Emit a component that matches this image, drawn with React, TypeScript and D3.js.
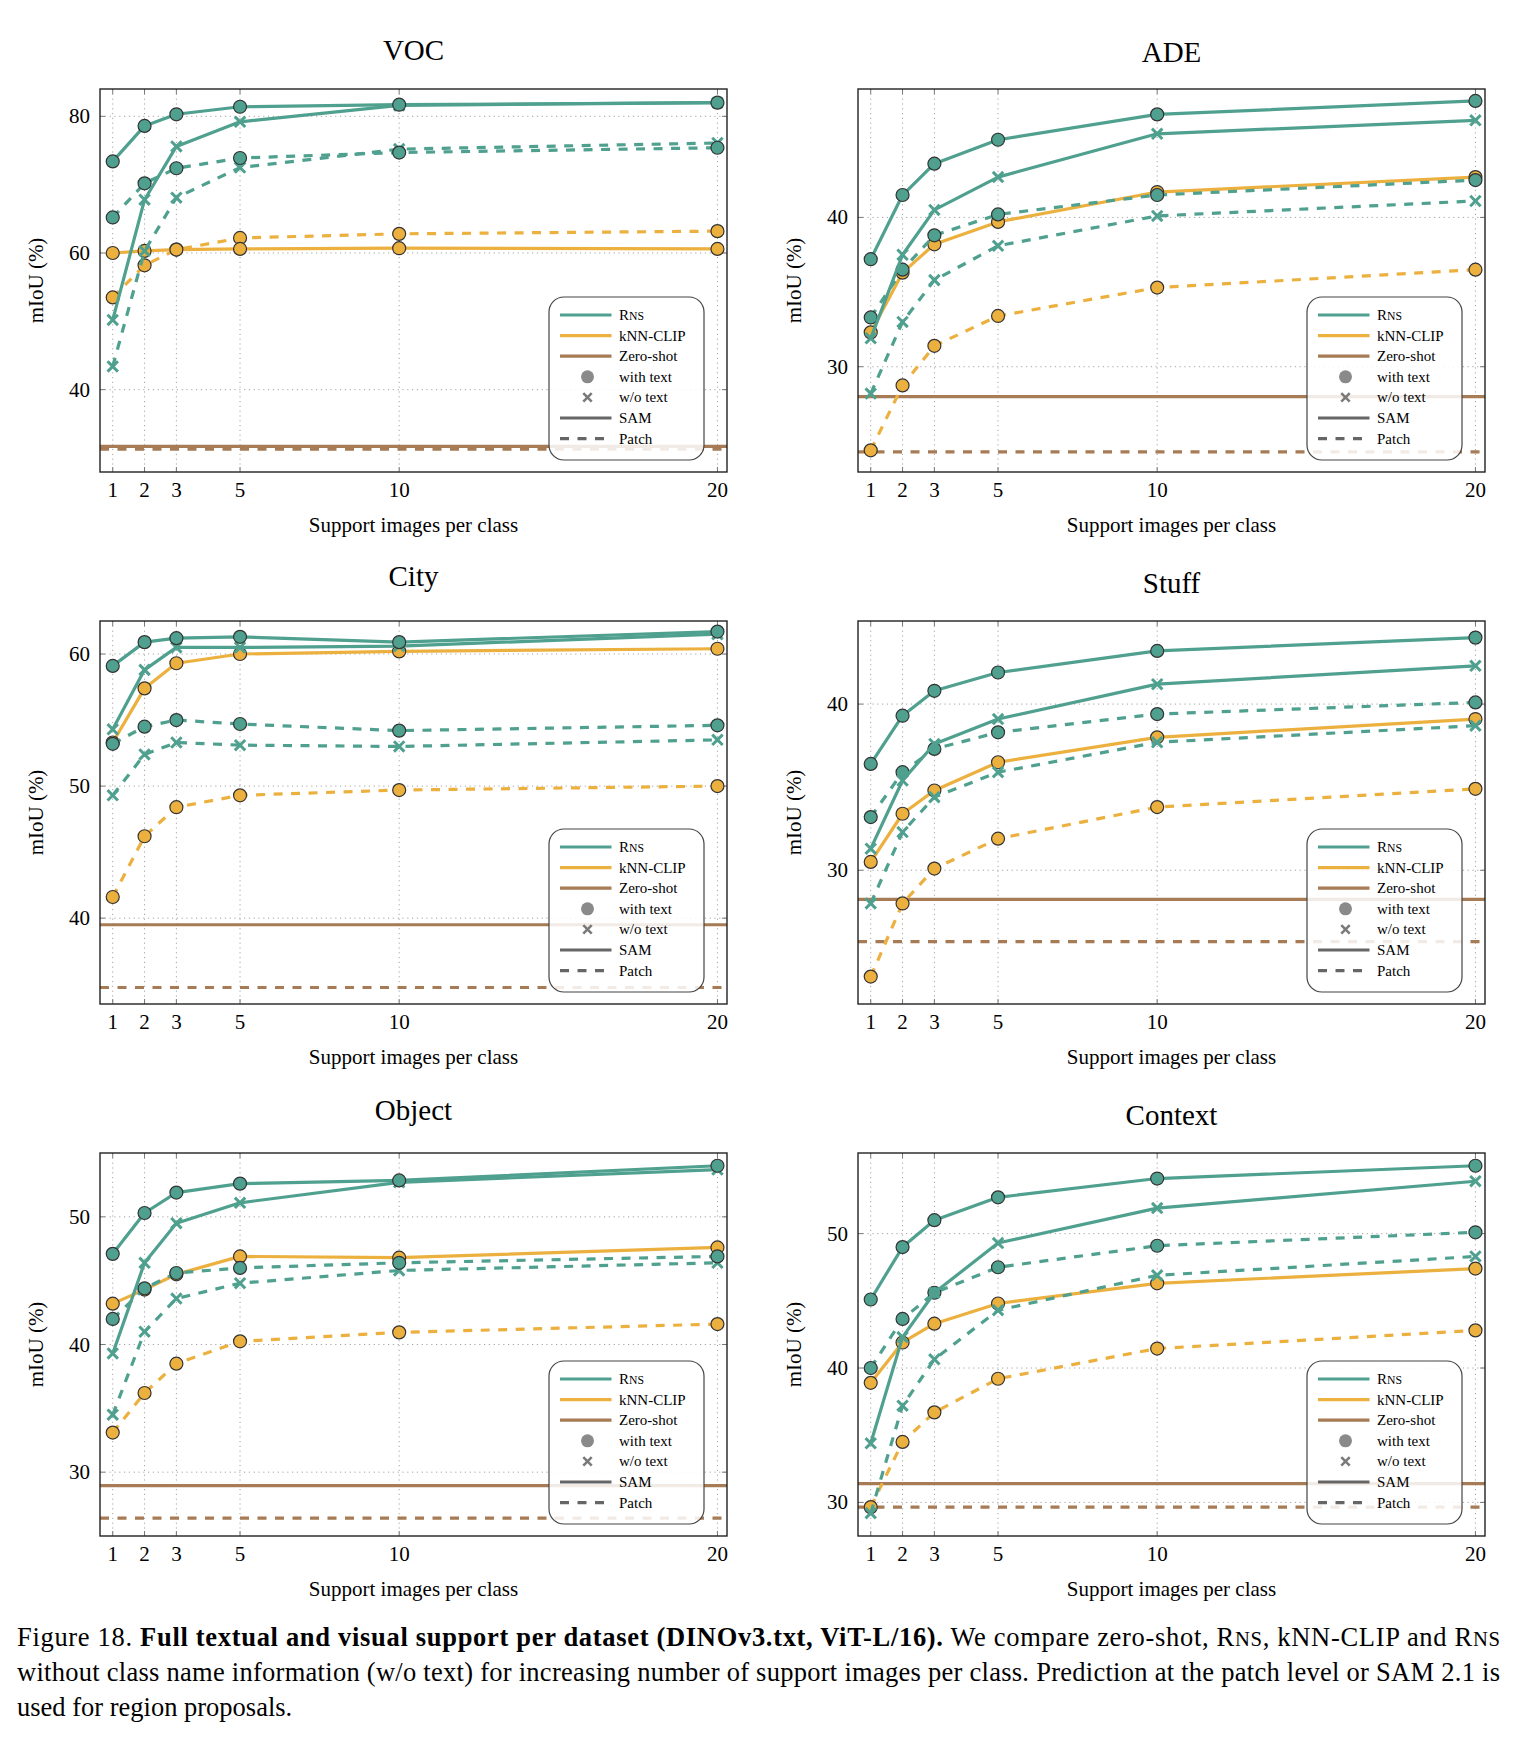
import * as d3 from "d3";

const shots = [1, 2, 3, 5, 10, 20];
const xTicks = [1, 2, 3, 5, 10, 20];

// VOC
const vocRnsSam = [73.4, 78.6, 80.3, 81.4, 81.7, 82.0];
const vocRnsSamNoText = [50.2, 67.8, 75.6, 79.2, 81.6, 82.0];
const vocRnsPatch = [65.2, 70.2, 72.4, 73.9, 74.7, 75.4];
const vocRnsPatchNoText = [43.4, 60.3, 68.1, 72.5, 75.2, 76.1];
const vocKnnSam = [60.0, 60.3, 60.5, 60.6, 60.7, 60.6];
const vocKnnPatch = [53.5, 58.2, 60.5, 62.2, 62.8, 63.2];
const vocZeroShot = [31.7, 31.3]; // SAM, Patch
const vocYTicks = [40, 60, 80];

// ADE
const adeRnsSam = [37.2, 41.5, 43.6, 45.2, 46.9, 47.8];
const adeRnsSamNoText = [31.9, 37.5, 40.5, 42.7, 45.6, 46.5];
const adeRnsPatch = [33.3, 36.5, 38.8, 40.2, 41.5, 42.5];
const adeRnsPatchNoText = [28.2, 33.0, 35.8, 38.1, 40.1, 41.1];
const adeKnnSam = [32.3, 36.3, 38.2, 39.7, 41.7, 42.7];
const adeKnnPatch = [24.4, 28.75, 31.4, 33.4, 35.3, 36.5];
const adeZeroShot = [28.0, 24.3];
const adeYTicks = [30, 40];

// City
const cityRnsSam = [59.1, 60.9, 61.2, 61.3, 60.9, 61.7];
const cityRnsSamNoText = [54.3, 58.8, 60.5, 60.5, 60.6, 61.5];
const cityRnsPatch = [53.2, 54.5, 55.0, 54.7, 54.2, 54.6];
const cityRnsPatchNoText = [49.3, 52.4, 53.3, 53.1, 53.0, 53.5];
const cityKnnSam = [53.3, 57.4, 59.3, 60.0, 60.2, 60.4];
const cityKnnPatch = [41.6, 46.2, 48.4, 49.3, 49.7, 50.0];
const cityZeroShot = [39.5, 34.75];
const cityYTicks = [40, 50, 60];

// Stuff
const stuffRnsSam = [36.4, 39.3, 40.8, 41.9, 43.2, 44.0];
const stuffRnsSamNoText = [31.3, 35.4, 37.6, 39.1, 41.2, 42.3];
const stuffRnsPatch = [33.2, 35.9, 37.3, 38.3, 39.4, 40.1];
const stuffRnsPatchNoText = [28.0, 32.3, 34.4, 35.9, 37.7, 38.7];
const stuffKnnSam = [30.5, 33.4, 34.8, 36.5, 38.0, 39.1];
const stuffKnnPatch = [23.6, 28.0, 30.1, 31.9, 33.8, 34.9];
const stuffZeroShot = [28.25, 25.7];
const stuffYTicks = [30, 40];

// Object
const objRnsSam = [47.1, 50.3, 51.9, 52.6, 52.85, 54.0];
const objRnsSamNoText = [39.3, 46.4, 49.5, 51.1, 52.7, 53.7];
const objRnsPatch = [42.0, 44.4, 45.6, 46.0, 46.4, 46.9];
const objRnsPatchNoText = [34.5, 41.0, 43.6, 44.8, 45.8, 46.4];
const objKnnSam = [43.2, 44.3, 45.5, 46.9, 46.8, 47.6];
const objKnnPatch = [33.1, 36.2, 38.5, 40.25, 40.95, 41.6];
const objZeroShot = [28.95, 26.4];
const objYTicks = [30, 40, 50];

// Context
const ctxRnsSam = [45.1, 49.0, 51.0, 52.7, 54.1, 55.05];
const ctxRnsSamNoText = [34.4, 42.3, 45.6, 49.3, 51.9, 53.9];
const ctxRnsPatch = [40.0, 43.65, 45.6, 47.5, 49.1, 50.1];
const ctxRnsPatchNoText = [29.2, 37.2, 40.65, 44.3, 46.9, 48.3];
const ctxKnnSam = [38.9, 41.9, 43.3, 44.8, 46.3, 47.4];
const ctxKnnPatch = [29.65, 34.5, 36.7, 39.2, 41.45, 42.8];
const ctxZeroShot = [31.4, 29.65];
const ctxYTicks = [30, 40, 50];

const TEAL = "#4fa08f";
const ORANGE = "#ecb03f";
const BROWN = "#a67b55";
const FONT = "'Liberation Serif', 'Times New Roman', serif";

const W = 627;
const H = 383;
const DASH = "9,8.5";

function SmallCapsRns({ size }: { size: number }) {
  return (
    <>
      R<tspan fontSize={size * 0.78}>NS</tspan>
    </>
  );
}

function XMark({ cx, cy, r, color, sw }: any) {
  return (
    <g stroke={color} strokeWidth={sw} strokeLinecap="butt">
      <line x1={cx - r} y1={cy - r} x2={cx + r} y2={cy + r} />
      <line x1={cx - r} y1={cy + r} x2={cx + r} y2={cy - r} />
    </g>
  );
}

function Panel(p: any) {
  const { title, left, top, yDomain, yTicks, titleDy } = p;
  const x = d3.scaleLinear().domain([0.6, 20.3]).range([left, left + W]);
  const y = d3.scaleLinear().domain(yDomain).range([top + H, top]);
  const line = d3
    .line<number>()
    .x((_, i) => x(shots[i]))
    .y((d) => y(d));

  const series = [
    { values: p.knnPatch, color: ORANGE, dashed: true, marker: "o" },
    { values: p.knnSam, color: ORANGE, dashed: false, marker: "o" },
    { values: p.rnsPatchNoText, color: TEAL, dashed: true, marker: "x" },
    { values: p.rnsPatch, color: TEAL, dashed: true, marker: "o" },
    { values: p.rnsSamNoText, color: TEAL, dashed: false, marker: "x" },
    { values: p.rnsSam, color: TEAL, dashed: false, marker: "o" },
  ];

  const [x0, x1] = x.range();
  const [yb, yt] = y.range();
  const clipId = "clip-" + title;

  // legend
  const lw = 155;
  const lh = 163;
  const lx = x1 - 23 - lw;
  const ly = yb - 12 - lh;
  const rowY = (i: number) => ly + 18 + i * 20.6;
  const legendRows = [
    { kind: "line", color: TEAL, label: "rns" },
    { kind: "line", color: ORANGE, label: "kNN-CLIP" },
    { kind: "line", color: BROWN, label: "Zero-shot" },
    { kind: "circle", color: "#8a8a8a", label: "with text" },
    { kind: "x", color: "#7a7a7a", label: "w/o text" },
    { kind: "line", color: "#666", label: "SAM" },
    { kind: "dash", color: "#666", label: "Patch" },
  ];

  return (
    <g fontFamily={FONT}>
      <defs>
        <clipPath id={clipId}>
          <rect x={x0} y={yt} width={W} height={H} />
        </clipPath>
      </defs>
      <text x={(x0 + x1) / 2} y={yt + titleDy} textAnchor="middle" fontSize={29}>
        {title}
      </text>

      {/* grid */}
      <g stroke="#9a9a9a" strokeWidth={0.9} strokeDasharray="1.2,3.6">
        {xTicks.map((t) => (
          <line key={"gx" + t} x1={x(t)} x2={x(t)} y1={yt} y2={yb} />
        ))}
        {yTicks.map((t: number) => (
          <line key={"gy" + t} x1={x0} x2={x1} y1={y(t)} y2={y(t)} />
        ))}
      </g>
      {/* ticks */}
      <g stroke="#777" strokeWidth={1}>
        {xTicks.map((t) => (
          <g key={"tx" + t}>
            <line x1={x(t)} x2={x(t)} y1={yb} y2={yb - 5} />
            <line x1={x(t)} x2={x(t)} y1={yt} y2={yt + 5} />
          </g>
        ))}
        {yTicks.map((t: number) => (
          <g key={"ty" + t}>
            <line x1={x0} x2={x0 + 5} y1={y(t)} y2={y(t)} />
            <line x1={x1} x2={x1 - 5} y1={y(t)} y2={y(t)} />
          </g>
        ))}
      </g>

      <g clipPath={`url(#${clipId})`}>
        {/* zero-shot */}
        <line x1={x0} x2={x1} y1={y(p.zero[0])} y2={y(p.zero[0])} stroke={BROWN} strokeWidth={3.2} />
        <line
          x1={x0}
          x2={x1}
          y1={y(p.zero[1])}
          y2={y(p.zero[1])}
          stroke={BROWN}
          strokeWidth={3.2}
          strokeDasharray={DASH}
        />
        {series.map((s, si) => (
          <g key={si}>
            <path
              d={line(s.values) || ""}
              fill="none"
              stroke={s.color}
              strokeWidth={3.2}
              strokeDasharray={s.dashed ? DASH : undefined}
              strokeLinejoin="round"
            />
            {s.values.map((v: number, i: number) =>
              s.marker === "o" ? (
                <circle key={i} cx={x(shots[i])} cy={y(v)} r={6.5} fill={s.color} stroke="#333" strokeWidth={1.2} />
              ) : (
                <XMark key={i} cx={x(shots[i])} cy={y(v)} r={5.2} color={s.color} sw={3} />
              )
            )}
          </g>
        ))}
      </g>

      {/* legend */}
      <rect x={lx} y={ly} width={lw} height={lh} rx={15} fill="#fff" fillOpacity={0.85} stroke="#444" strokeWidth={1.2} />
      {legendRows.map((r, i) => {
        const cy = rowY(i);
        let sym = null;
        if (r.kind === "line" || r.kind === "dash")
          sym = (
            <line
              x1={lx + 11}
              x2={lx + 62.5}
              y1={cy}
              y2={cy}
              stroke={r.color}
              strokeWidth={3.2}
              strokeDasharray={r.kind === "dash" ? DASH : undefined}
            />
          );
        else if (r.kind === "circle") sym = <circle cx={lx + 38.5} cy={cy} r={6.5} fill={r.color} />;
        else sym = <XMark cx={lx + 38.5} cy={cy} r={4.2} color={r.color} sw={2.6} />;
        return (
          <g key={"lg" + i}>
            {sym}
            <text x={lx + 70} y={cy + 5} fontSize={15}>
              {r.label === "rns" ? <SmallCapsRns size={15} /> : r.label}
            </text>
          </g>
        );
      })}

      {/* frame */}
      <rect x={x0} y={yt} width={W} height={H} fill="none" stroke="#222" strokeWidth={1.4} />

      {/* axes labels */}
      {xTicks.map((t) => (
        <text key={"xl" + t} x={x(t)} y={yb + 25} textAnchor="middle" fontSize={21}>
          {t}
        </text>
      ))}
      {yTicks.map((t: number) => (
        <text key={"yl" + t} x={x0 - 10} y={y(t) + 7} textAnchor="end" fontSize={21}>
          {t}
        </text>
      ))}
      <text x={(x0 + x1) / 2} y={yb + 60} textAnchor="middle" fontSize={21}>
        Support images per class
      </text>
      <text
        transform={`translate(${x0 - 57},${(yt + yb) / 2}) rotate(-90)`}
        textAnchor="middle"
        fontSize={21}
      >
        mIoU (%)
      </text>
    </g>
  );
}

export default function App() {
  const L = 100;
  const R = 858;
  const rows = [89, 621, 1153];
  const cap = 26.5;
  return (
    <svg
      width={1517}
      height={1740}
      viewBox="0 0 1517 1740"
      style={{ position: "absolute", left: 0, top: 0, background: "#fff" }}
    >
      <rect width={1517} height={1740} fill="#fff" />
      <Panel
        title="VOC" left={L} top={rows[0]} titleDy={-29} yDomain={[27.95, 84.0]} yTicks={vocYTicks}
        rnsSam={vocRnsSam} rnsSamNoText={vocRnsSamNoText} rnsPatch={vocRnsPatch}
        rnsPatchNoText={vocRnsPatchNoText} knnSam={vocKnnSam} knnPatch={vocKnnPatch} zero={vocZeroShot}
      />
      <Panel
        title="ADE" left={R} top={rows[0]} titleDy={-27} yDomain={[22.95, 48.6]} yTicks={adeYTicks}
        rnsSam={adeRnsSam} rnsSamNoText={adeRnsSamNoText} rnsPatch={adeRnsPatch}
        rnsPatchNoText={adeRnsPatchNoText} knnSam={adeKnnSam} knnPatch={adeKnnPatch} zero={adeZeroShot}
      />
      <Panel
        title="City" left={L} top={rows[1]} titleDy={-35} yDomain={[33.5, 62.5]} yTicks={cityYTicks}
        rnsSam={cityRnsSam} rnsSamNoText={cityRnsSamNoText} rnsPatch={cityRnsPatch}
        rnsPatchNoText={cityRnsPatchNoText} knnSam={cityKnnSam} knnPatch={cityKnnPatch} zero={cityZeroShot}
      />
      <Panel
        title="Stuff" left={R} top={rows[1]} titleDy={-28} yDomain={[21.95, 45.0]} yTicks={stuffYTicks}
        rnsSam={stuffRnsSam} rnsSamNoText={stuffRnsSamNoText} rnsPatch={stuffRnsPatch}
        rnsPatchNoText={stuffRnsPatchNoText} knnSam={stuffKnnSam} knnPatch={stuffKnnPatch} zero={stuffZeroShot}
      />
      <Panel
        title="Object" left={L} top={rows[2]} titleDy={-33} yDomain={[25.0, 55.0]} yTicks={objYTicks}
        rnsSam={objRnsSam} rnsSamNoText={objRnsSamNoText} rnsPatch={objRnsPatch}
        rnsPatchNoText={objRnsPatchNoText} knnSam={objKnnSam} knnPatch={objKnnPatch} zero={objZeroShot}
      />
      <Panel
        title="Context" left={R} top={rows[2]} titleDy={-28} yDomain={[27.5, 56.0]} yTicks={ctxYTicks}
        rnsSam={ctxRnsSam} rnsSamNoText={ctxRnsSamNoText} rnsPatch={ctxRnsPatch}
        rnsPatchNoText={ctxRnsPatchNoText} knnSam={ctxKnnSam} knnPatch={ctxKnnPatch} zero={ctxZeroShot}
      />

      {/* caption */}
      <g fontFamily={FONT} fontSize={cap}>
        <text x={17} y={1646} textLength={1483} lengthAdjust="spacing">
          Figure 18.{"  "}
          <tspan fontWeight="bold">Full textual and visual support per dataset (DINOv3.txt, ViT-L/16).</tspan>
          {" "}We compare zero-shot, <SmallCapsRns size={cap} />, kNN-CLIP and <SmallCapsRns size={cap} />
        </text>
        <text x={17} y={1681} textLength={1483} lengthAdjust="spacing">
          without class name information (w/o text) for increasing number of support images per class. Prediction at
          the patch level or SAM 2.1 is
        </text>
        <text x={17} y={1716}>
          used for region proposals.
        </text>
      </g>
    </svg>
  );
}
